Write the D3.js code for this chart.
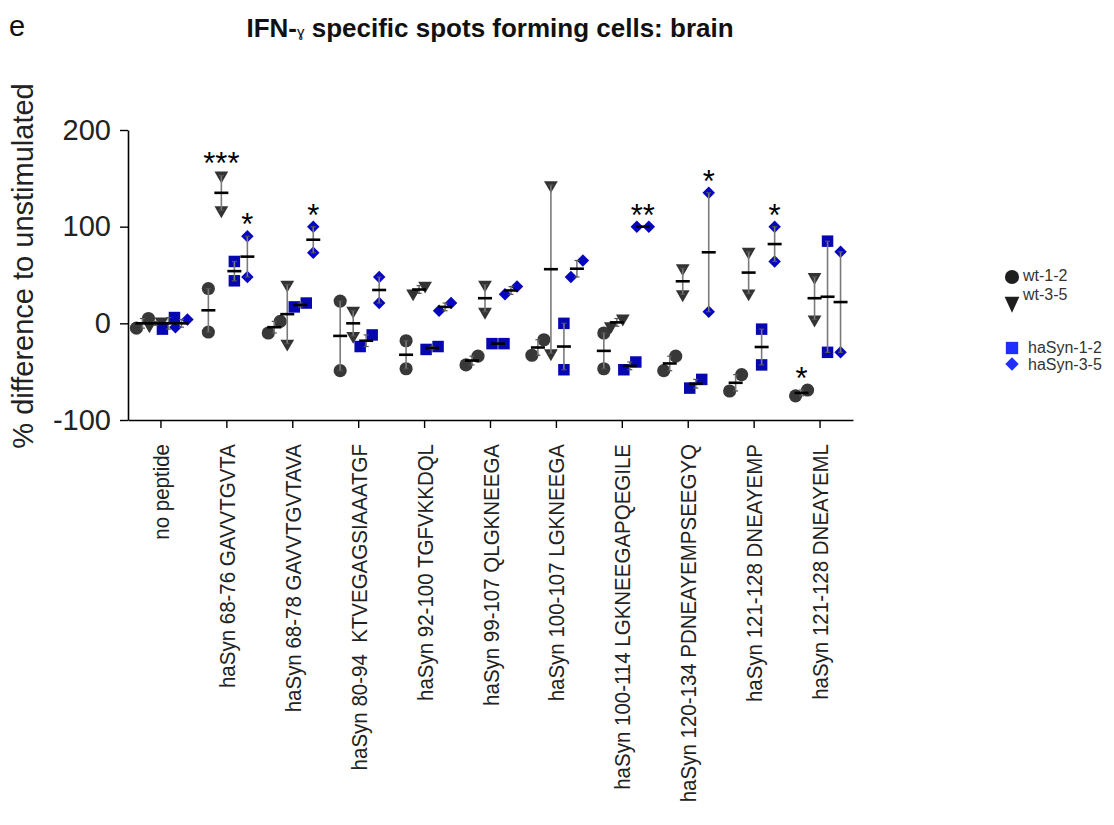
<!DOCTYPE html>
<html lang="en">
<head>
  <meta charset="UTF-8">
  <title>IFN-gamma spots brain</title>
  <script src="https://d3js.org/d3.v7.min.js"></script>
  <style>
    body { margin: 0; background: #fff; }
    svg { font-family: 'Liberation Sans', Arial, sans-serif; }
  </style>
</head>
<body>
  <div id="canvas"></div>
  <script>
    // categories (x axis) and groups
    const categories = [
      'no peptide',
      'haSyn 68-76 GAVVTGVTA',
      'haSyn 68-78 GAVVTGVTAVA',
      'haSyn 80-94  KTVEGAGSIAAATGF',
      'haSyn 92-100 TGFVKKDQL',
      'haSyn 99-107 QLGKNEEGA',
      'haSyn 100-107 LGKNEEGA',
      'haSyn 100-114 LGKNEEGAPQEGILE',
      'haSyn 120-134 PDNEAYEMPSEEGYQ',
      'haSyn 121-128 DNEAYEMP',
      'haSyn 121-128 DNEAYEML'
    ];
    const groups = ['wt-1-2', 'wt-3-5', 'haSyn-1-2', 'haSyn-3-5'];

    // two values per category for each group (% difference to unstimulated)
    const wt12 = [[-5,5],[-9,36],[-10,2],[-49,23],[-47,-18],[-43,-34],[-33,-17],[-47,-10],[-49,-34],[-70,-53],[-75,-69]];
    const wt35 = [[-2,2],[117,153],[-21,40],[-13,13],[31,39],[12,40],[-31,143],[-3,5],[30,57],[31,74],[4,48]];
    const hs12 = [[-6,6],[44,64],[17,21],[-24,-12],[-27,-24],[-21,-21],[-48,0],[-48,-40],[-67,-58],[-43,-6],[-30,85]];
    const hs35 = [[-4,4],[48,90],[73,100],[21,48],[13,21],[30,38],[48,65],[100,100],[12,135],[64,100],[-30,74]];
    const series = [wt12, wt35, hs12, hs35];

    // significance marks
    const starCats = [1, 1, 2, 7, 8, 9, 10];
    const starGroups = [1, 3, 3, 3, 3, 3, 0];
    const starLabels = ['***', '*', '*', '**', '*', '*', '*'];

    const yTicks = [200, 100, 0, -100];

    const width = 1114;
    const height = 825;
    const plotColors = ['#383838', '#333333', '#0707b0', '#0606c2'];
    const legendColors = ['#1e1e1e', '#1e1e1e', '#1f2eff', '#1f2eff'];

    const svg = d3.select('#canvas')
      .append('svg')
      .attr('width', width)
      .attr('height', height);

    const scaleX = d3.scaleBand().domain(categories).range([128, 853]);
    const scaleG = d3.scalePoint().domain(groups).range([-18.5, 20.5]);
    const scaleY = d3.scaleLinear().domain([-100, 200]).range([420, 130]);

    function symbolFor(i, big) {
      const s = big ? 1.15 : 1;
      if (i === 0) return d3.symbol(d3.symbolCircle, 136 * s)();
      if (i === 1) return d3.symbol(d3.symbolTriangle, 82 * s)();
      if (i === 2) return d3.symbol(d3.symbolSquare, 132 * s)();
      return d3.symbol(d3.symbolSquare, 78 * s)();
    }
    function rotFor(i) {
      if (i === 1) return ' rotate(180)';
      if (i === 3) return ' rotate(45)';
      return '';
    }

    // build point list
    const marks = [];
    series.forEach((ser, gi) => {
      ser.forEach((pair, ci) => {
        const sorted = pair.slice().sort((a, b) => a - b);
        const close = Math.abs(scaleY(sorted[0]) - scaleY(sorted[1])) < 18;
        const cx = scaleX(categories[ci]) + scaleX.bandwidth() / 2 + scaleG(groups[gi]);
        marks.push({ gi, ci, cx, vals: sorted, close });
      });
    });

    const plot = svg.append('g');

    // markers
    marks.forEach(m => {
      m.vals.forEach((v, k) => {
        const dx = m.close ? (k === 0 ? -6 : 6) : 0;
        plot.append('path')
          .attr('d', symbolFor(m.gi, false))
          .attr('transform', 'translate(' + (m.cx + dx) + ',' + scaleY(v) + ')' + rotFor(m.gi))
          .attr('fill', plotColors[m.gi]);
      });
    });

    // range bars and means
    marks.forEach(m => {
      const lo = scaleY(m.vals[0]);
      const hi = scaleY(m.vals[1]);
      const mean = scaleY(d3.mean(m.vals));
      plot.append('line')
        .attr('x1', m.cx).attr('x2', m.cx)
        .attr('y1', lo).attr('y2', hi)
        .attr('stroke', '#7a7a7a').attr('stroke-width', 1.6);
      [lo, hi].forEach(yy => {
        plot.append('line')
          .attr('x1', m.cx - 2.5).attr('x2', m.cx + 2.5)
          .attr('y1', yy).attr('y2', yy)
          .attr('stroke', '#555').attr('stroke-width', 1.2);
      });
      plot.append('line')
        .attr('x1', m.cx - 7).attr('x2', m.cx + 7)
        .attr('y1', mean).attr('y2', mean)
        .attr('stroke', '#000').attr('stroke-width', 2.6);
    });

    // stars
    starLabels.forEach((lab, i) => {
      const m = marks.find(d => d.ci === starCats[i] && d.gi === starGroups[i]);
      const top = scaleY(m.vals[1]);
      svg.append('text')
        .attr('x', m.cx)
        .attr('y', top - 19 + 18)
        .attr('text-anchor', 'middle')
        .style('font-size', '31px')
        .style('fill', '#000')
        .text(lab);
    });

    // axes
    const xAxis = d3.axisBottom(scaleX).tickSize(8).tickSizeOuter(0);
    const gx = svg.append('g')
      .attr('transform', 'translate(0,420)')
      .call(xAxis);
    gx.select('.domain').attr('stroke', '#000').attr('stroke-width', 1.6);
    gx.selectAll('.tick line').attr('stroke', '#000').attr('stroke-width', 1.4);
    gx.selectAll('.tick text')
      .attr('transform', 'rotate(-90) scale(1,1.12)')
      .attr('text-anchor', 'end')
      .attr('x', -24)
      .attr('y', 0)
      .attr('dy', '0.35em')
      .style('font-size', '20.5px')
      .style('font-family', "'Liberation Sans', Arial, sans-serif")
      .style('white-space', 'pre')
      .attr('fill', '#222');

    const yAxis = d3.axisLeft(scaleY)
      .tickValues(yTicks)
      .tickFormat(d => String(d))
      .tickSize(8).tickPadding(9).tickSizeOuter(0);
    const gy = svg.append('g')
      .attr('transform', 'translate(128,0)')
      .call(yAxis);
    gy.select('.domain').attr('stroke', '#000').attr('stroke-width', 1.6);
    gy.selectAll('.tick line').attr('stroke', '#000').attr('stroke-width', 1.4);
    gy.selectAll('.tick text')
      .style('font-size', '29px')
      .style('font-family', "'Liberation Sans', Arial, sans-serif")
      .attr('fill', '#222');

    svg.append('text')
      .attr('transform', 'translate(33,266) rotate(-90)')
      .attr('text-anchor', 'middle')
      .style('font-size', '29px')
      .style('fill', '#222')
      .text('% difference to unstimulated');

    // title
    const title = svg.append('text')
      .attr('x', 490)
      .attr('y', 37)
      .attr('text-anchor', 'middle')
      .style('font-size', '26px')
      .style('font-weight', 'bold')
      .style('fill', '#111');
    title.append('tspan').text('IFN-');
    title.append('tspan').style('font-size', '15px').style('font-weight', 'normal').text('ɣ');
    title.append('tspan').text(' specific spots forming cells: brain');

    svg.append('text')
      .attr('x', 9)
      .attr('y', 36)
      .style('font-size', '29px')
      .style('fill', '#111')
      .text('e');

    // legend
    const legendY = [277, 302, 348, 364];
    const legendTextY = [281, 300, 353, 370];
    groups.forEach((g, i) => {
      svg.append('path')
        .attr('d', symbolFor(i, true))
        .attr('transform', 'translate(1012,' + legendY[i] + ')' + rotFor(i) + (i === 1 ? ' scale(1,1.25)' : ''))
        .attr('fill', legendColors[i]);
      svg.append('text')
        .attr('x', i < 2 ? 1023 : 1028)
        .attr('y', legendTextY[i])
        .style('font-size', '16px')
        .style('fill', '#333')
        .text(g);
    });
  </script>
</body>
</html>
